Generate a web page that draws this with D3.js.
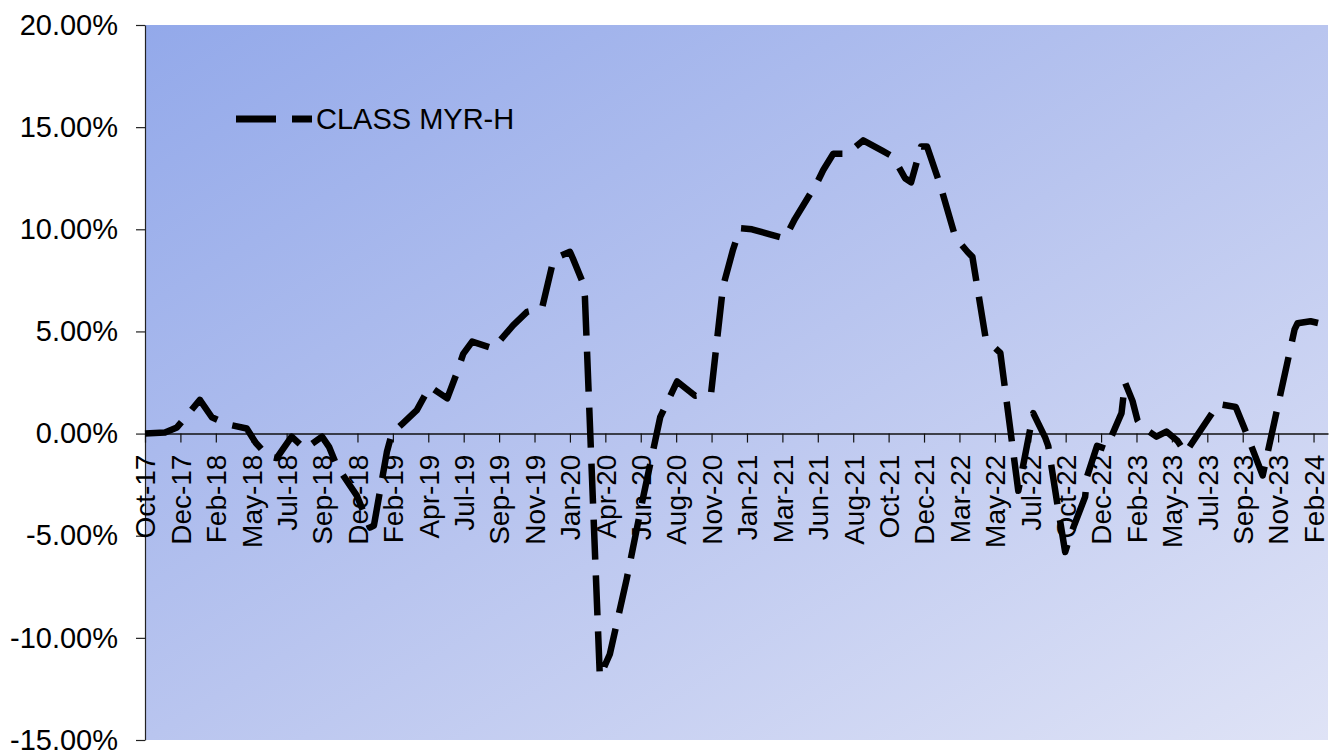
<!DOCTYPE html>
<html>
<head>
<meta charset="utf-8">
<script src="https://cdn.jsdelivr.net/npm/d3@7"></script>
<style>
  html, body { margin: 0; padding: 0; background: #ffffff; }
  svg { display: block; }
  text { font-family: "Liberation Sans", Arial, sans-serif; fill: #000; }
</style>
</head>
<body>
<svg id="chart" width="1335" height="754"></svg>
<script>
// Cumulative return of the MYR-hedged class
const seriesName = "CLASS MYR-H";

const dates = [
  "2017-10-01","2017-11-10","2017-12-04","2018-01-19","2018-02-12","2018-03-16",
  "2018-04-23","2018-05-11","2018-06-04","2018-06-22","2018-07-22","2018-08-18",
  "2018-09-21","2018-10-05","2018-10-21","2018-11-30","2018-12-26","2019-01-03",
  "2019-01-29","2019-02-08","2019-03-02","2019-03-30","2019-04-25","2019-05-30",
  "2019-06-18","2019-07-01","2019-07-19","2019-08-30","2019-10-09","2019-11-06",
  "2019-12-06","2019-12-28","2020-01-07","2020-01-31","2020-02-06","2020-02-24",
  "2020-03-01","2020-03-31","2020-04-20","2020-05-24","2020-06-26","2020-07-30",
  "2020-09-02","2020-10-08","2020-11-09","2020-12-03","2020-12-23","2021-01-06",
  "2021-01-30","2021-03-07","2021-04-06","2021-04-26","2021-06-10","2021-06-22",
  "2021-07-12","2021-08-09","2021-09-10","2021-10-18","2021-11-09","2021-12-03",
  "2021-12-15","2022-01-04","2022-01-16","2022-02-11","2022-03-14","2022-04-07",
  "2022-04-17","2022-05-13","2022-05-19","2022-06-12","2022-07-18","2022-08-17",
  "2022-09-10","2022-09-16","2022-10-04","2022-10-20","2022-10-30","2022-11-29",
  "2022-12-03","2022-12-23","2023-01-10","2023-02-10","2023-02-17","2023-03-04",
  "2023-03-14","2023-03-22","2023-04-21","2023-05-11","2023-06-02","2023-06-18",
  "2023-08-23","2023-09-27","2023-10-13","2023-11-20","2024-01-23","2024-01-29",
  "2024-02-24","2024-03-30"
];

// Returns in percent
const returns = [
   0.00,  0.05,  0.30,  1.65,  0.80,  0.45,
   0.25, -0.45, -1.10, -1.20, -0.15, -0.75,
  -0.15, -0.65, -1.60, -3.05, -4.60, -4.50,
  -0.90,  0.00,  0.50,  1.15,  2.30,  1.72,
   2.95,  3.90,  4.50,  4.17,  5.30,  5.96,
   6.13,  8.40,  8.65,  8.90,  8.57,  7.50,
   6.70,-11.90,-10.80, -7.10, -3.10,  0.80,
   2.55,  1.85,  1.97,  7.20,  9.00, 10.05,
  10.00,  9.75,  9.55, 10.50, 12.30, 12.90,
  13.70, 13.70, 14.35, 13.85, 13.55, 12.50,
  12.30, 14.05, 14.05, 12.20,  9.60,  8.90,
   8.65,  4.75,  4.50,  3.95, -2.80,  1.00,
  -0.20, -0.60, -3.40, -5.80, -5.00, -3.10,
  -2.10, -0.60, -0.75,  1.00,  2.50,  1.60,
   0.65,  0.35, -0.15,  0.10, -0.35, -0.95,
   1.45,  1.30,  0.35, -2.05,  5.10,  5.40,
   5.50,  5.30
];

const xTickLabels = [
  "Oct-17","Dec-17","Feb-18","May-18","Jul-18","Sep-18","Dec-18","Feb-19",
  "Apr-19","Jul-19","Sep-19","Nov-19","Jan-20","Apr-20","Jun-20","Aug-20",
  "Nov-20","Jan-21","Mar-21","Jun-21","Aug-21","Oct-21","Dec-21","Mar-22",
  "May-22","Jul-22","Oct-22","Dec-22","Feb-23","May-23","Jul-23","Sep-23",
  "Nov-23","Feb-24"
];
const xTickStepDays = 71;

const yTicks = [-0.15, -0.10, -0.05, 0, 0.05, 0.10, 0.15, 0.20];

// ---------------------------------------------------------------
const parse = d3.timeParse("%Y-%m-%d");
const data = dates.map((d, i) => ({ date: parse(d), value: returns[i] / 100 }));

const plot = { left: 145, top: 25, right: 1328, bottom: 740 };
const axisStart = parse("2017-10-01");
const axisEnd = parse("2024-03-30");

const x = d3.scaleTime().domain([axisStart, axisEnd]).range([plot.left, plot.right]);
const y = d3.scaleLinear().domain([-0.15, 0.20]).range([plot.bottom, plot.top]);

const svg = d3.select("#chart");

// plot-area background gradient
const defs = svg.append("defs");
const grad = defs.append("linearGradient")
  .attr("id", "plotBg")
  .attr("x1", 0).attr("y1", 0).attr("x2", 1).attr("y2", 1);
grad.append("stop").attr("offset", "0%").attr("stop-color", "#93a9ea");
grad.append("stop").attr("offset", "50%").attr("stop-color", "#b9c5ef");
grad.append("stop").attr("offset", "100%").attr("stop-color", "#dfe3f6");

svg.append("rect")
  .attr("x", plot.left).attr("y", plot.top)
  .attr("width", plot.right - plot.left)
  .attr("height", plot.bottom - plot.top)
  .attr("fill", "url(#plotBg)");

// y axis
const fmtPct = v => (Math.abs(v) < 1e-9 ? 0 : v * 100).toFixed(2) + "%";
const yAxis = svg.append("g")
  .attr("transform", `translate(${plot.left},0)`)
  .call(d3.axisLeft(y).tickValues(yTicks).tickFormat(fmtPct)
        .tickSize(9).tickSizeOuter(0).tickPadding(18));
yAxis.select(".domain").attr("stroke", "#222").attr("stroke-width", 1.2);
yAxis.selectAll(".tick line").attr("stroke", "#222").attr("stroke-width", 1.2);
yAxis.selectAll("text")
  .style("font-size", "29px")
  .attr("fill", "#000");

// x axis along the zero line
const tickDates = xTickLabels.map((_, k) => d3.timeDay.offset(axisStart, k * xTickStepDays));
const xAxis = svg.append("g")
  .attr("transform", `translate(0,${y(0)})`)
  .call(d3.axisBottom(x).tickValues(tickDates)
        .tickFormat((d, i) => xTickLabels[i])
        .tickSize(9).tickSizeOuter(0));
xAxis.select(".domain").attr("stroke", "#111").attr("stroke-width", 1.4);
xAxis.selectAll(".tick line").attr("stroke", "#111").attr("stroke-width", 1.2);
xAxis.selectAll("text")
  .style("font-size", "28px")
  .attr("fill", "#000")
  .attr("text-anchor", "end")
  .attr("transform", "rotate(-90)")
  .attr("x", -21)
  .attr("y", 0)
  .attr("dy", "0.35em");

// series line
const line = d3.line().x(d => x(d.date)).y(d => y(d.value));
svg.append("path")
  .datum(data)
  .attr("d", line)
  .attr("fill", "none")
  .attr("stroke", "#000")
  .attr("stroke-width", 6.5)
  .attr("stroke-dasharray", "40 16")
  .attr("stroke-linejoin", "round")
  .attr("stroke-linecap", "butt");

// legend
const legend = svg.append("g").attr("transform", "translate(236,119)");
legend.append("line")
  .attr("x1", 0).attr("x2", 76).attr("y1", 0).attr("y2", 0)
  .attr("stroke", "#000").attr("stroke-width", 7)
  .attr("stroke-dasharray", "40 16");
legend.append("text")
  .attr("x", 80).attr("y", 0).attr("dy", "0.35em")
  .style("font-size", "29px")
  .text(seriesName);
</script>
</body>
</html>
